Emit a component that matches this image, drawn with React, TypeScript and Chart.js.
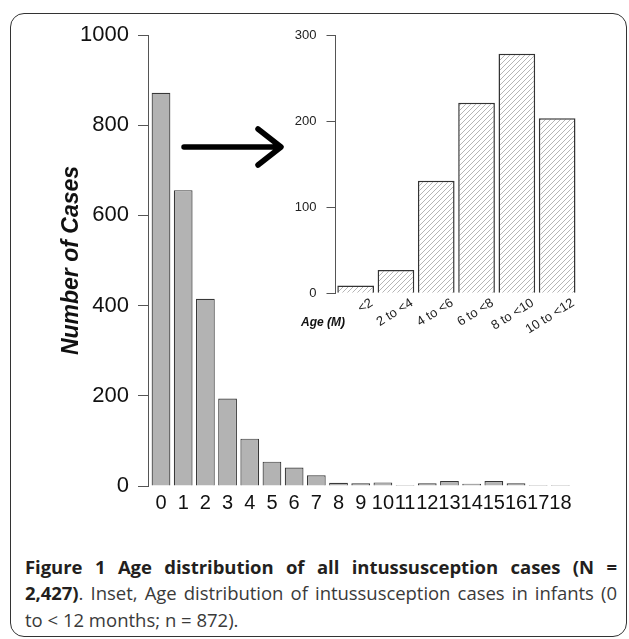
import React, { useEffect, useRef } from 'react';
import { Chart, registerables } from 'chart.js';

Chart.register(...registerables);

// ---- Data ----
const ageYears = ['0', '1', '2', '3', '4', '5', '6', '7', '8', '9', '10', '11', '12', '13', '14', '15', '16', '17', '18'];
const casesByYear = [872, 656, 415, 194, 105, 54, 41, 24, 7, 6, 8, 2, 6, 11, 5, 11, 6, 2, 2];
const mainYTicks = [0, 200, 400, 600, 800, 1000];

const infantAgeGroups = ['<2', '2 to <4', '4 to <6', '6 to <8', '8 to <10', '10 to <12'];
const casesByMonth = [9, 27, 131, 222, 279, 204];
const insetYTicks = [0, 100, 200, 300];

const FONT = "'Liberation Sans', Arial, Helvetica, sans-serif";

function makeHatch(): CanvasPattern | string {
  const c = document.createElement('canvas');
  c.width = 5;
  c.height = 5;
  const g = c.getContext('2d');
  if (!g) return '#ddd';
  g.fillStyle = '#ffffff';
  g.fillRect(0, 0, 5, 5);
  g.strokeStyle = '#a8a8a8';
  g.lineWidth = 0.85;
  g.beginPath();
  g.moveTo(-1, 6);
  g.lineTo(6, -1);
  g.moveTo(-3.5, 3.5);
  g.lineTo(3.5, -3.5);
  g.moveTo(1.5, 8.5);
  g.lineTo(8.5, 1.5);
  g.stroke();
  const p = g.createPattern(c, 'repeat');
  return p || '#ddd';
}

const mainDecor = {
  id: 'mainDecor',
  afterDraw(chart: any) {
    const ctx = chart.ctx as CanvasRenderingContext2D;
    const { top, bottom } = chart.chartArea;
    ctx.save();
    ctx.fillStyle = '#111';
    ctx.font = `italic bold 23px ${FONT}`;
    ctx.textAlign = 'center';
    ctx.textBaseline = 'middle';
    ctx.translate(72, (top + bottom) / 2);
    ctx.rotate(-Math.PI / 2);
    ctx.fillText('Number of Cases', 0, 0);
    ctx.restore();

    ctx.save();
    ctx.fillStyle = '#111';
    ctx.font = `italic bold 22px ${FONT}`;
    ctx.textAlign = 'center';
    ctx.textBaseline = 'middle';
    ctx.fillText('Age (Y)', 372, 532);
    ctx.restore();

    // arrow pointing to inset
    ctx.save();
    ctx.strokeStyle = '#000';
    ctx.lineWidth = 5.5;
    ctx.lineCap = 'round';
    ctx.lineJoin = 'round';
    ctx.beginPath();
    ctx.moveTo(184, 147);
    ctx.lineTo(279, 147);
    ctx.moveTo(258, 129);
    ctx.lineTo(281, 147);
    ctx.lineTo(258, 165);
    ctx.stroke();
    ctx.restore();
  },
};

const insetDecor = {
  id: 'insetDecor',
  afterDraw(chart: any) {
    const ctx = chart.ctx as CanvasRenderingContext2D;
    ctx.save();
    ctx.fillStyle = '#111';
    ctx.font = `italic bold 12px ${FONT}`;
    ctx.textAlign = 'center';
    ctx.textBaseline = 'middle';
    ctx.fillText('Age (M)', 53, 308);
    ctx.restore();
  },
};

export default function App() {
  const mainRef = useRef<HTMLCanvasElement>(null);
  const insetRef = useRef<HTMLCanvasElement>(null);
  const line1Ref = useRef<HTMLSpanElement>(null);
  const line2Ref = useRef<HTMLSpanElement>(null);

  useEffect(() => {
    // keep justified caption lines on a single line each
    [line1Ref.current, line2Ref.current].forEach((el) => {
      if (!el) return;
      const w = el.getBoundingClientRect().width;
      const n = (el.textContent || '').length;
      if (w > 589 && n > 0) {
        el.style.letterSpacing = `${(589 - w) / n}px`;
      }
    });
  }, []);

  useEffect(() => {
    if (!mainRef.current || !insetRef.current) return;

    const main = new Chart(mainRef.current, {
      type: 'bar',
      data: {
        datasets: [
          {
            data: casesByYear.map((v, i) => ({ x: i, y: v })),
            backgroundColor: '#b3b3b3',
            borderColor: '#383838',
            borderWidth: 1.2,
            categoryPercentage: 1,
            barPercentage: 0.845,
          } as any,
        ],
      },
      options: {
        responsive: false,
        animation: false,
        devicePixelRatio: 1,
        layout: { padding: { left: 0, top: 35, right: 57.5, bottom: 0 } },
        plugins: { legend: { display: false }, tooltip: { enabled: false } },
        scales: {
          x: {
            type: 'linear',
            offset: false,
            min: -0.586,
            max: 18.5,
            afterFit: (s: any) => {
              s.height = 34;
            },
            afterBuildTicks: (s: any) => {
              s.ticks = ageYears.map((_, i) => ({ value: i }));
            },
            grid: { display: false, drawTicks: false, tickLength: 0 },
            border: { display: false },
            ticks: {
              autoSkip: false,
              maxRotation: 0,
              minRotation: 0,
              padding: 5,
              font: { family: FONT, size: 20 },
              color: '#111',
              callback: (v: any) => ageYears[Math.round(Number(v))] ?? '',
            },
          },
          y: {
            min: 0,
            max: 1000,
            afterFit: (s: any) => {
              s.width = 148;
            },
            afterBuildTicks: (s: any) => {
              s.ticks = mainYTicks.map((v) => ({ value: v }));
            },
            grid: { drawOnChartArea: false, drawTicks: true, tickLength: 10, color: '#555' },
            border: { display: true, color: '#555', width: 1 },
            ticks: {
              padding: 9,
              font: { family: FONT, size: 22 },
              color: '#111',
              callback: (v: any) => String(v),
            },
          },
        },
      } as any,
      plugins: [mainDecor],
    });

    const inset = new Chart(insetRef.current, {
      type: 'bar',
      data: {
        labels: infantAgeGroups,
        datasets: [
          {
            data: casesByMonth,
            backgroundColor: makeHatch() as any,
            borderColor: '#333',
            borderWidth: 1.5,
            categoryPercentage: 1,
            barPercentage: 0.91,
          } as any,
        ],
      },
      options: {
        responsive: false,
        animation: false,
        devicePixelRatio: 1,
        layout: { padding: { left: 0, top: 20.7, right: 32.7, bottom: 0 } },
        plugins: { legend: { display: false }, tooltip: { enabled: false } },
        scales: {
          x: {
            offset: true,
            afterFit: (s: any) => {
              s.height = 51.7;
            },
            grid: { display: false, drawTicks: false, tickLength: 0, offset: true },
            border: { display: false },
            ticks: {
              autoSkip: false,
              minRotation: 32,
              maxRotation: 32,
              padding: 2,
              labelOffset: 16,
              font: { family: FONT, size: 13 },
              color: '#222',
            },
          },
          y: {
            min: 0,
            max: 300,
            afterFit: (s: any) => {
              s.width = 65.5;
            },
            afterBuildTicks: (s: any) => {
              s.ticks = insetYTicks.map((v) => ({ value: v }));
            },
            grid: { drawOnChartArea: false, drawTicks: true, tickLength: 9, color: '#555' },
            border: { display: true, color: '#555', width: 1 },
            ticks: {
              padding: 10,
              font: { family: FONT, size: 13 },
              color: '#222',
              callback: (v: any) => String(v),
            },
          },
        },
      } as any,
      plugins: [insetDecor],
    });

    return () => {
      main.destroy();
      inset.destroy();
    };
  }, []);

  const lineStyle: React.CSSProperties = {
    textAlign: 'justify',
    textAlignLast: 'justify' as any,
    height: 26.5,
  };

  return (
    <div style={{ position: 'absolute', left: 0, top: 0, width: 629, height: 639, background: '#fff', overflow: 'hidden' }}>
      <div
        style={{
          position: 'absolute',
          left: 10,
          top: 13,
          width: 617,
          height: 624,
          border: '1.5px solid #333',
          borderRadius: 14,
          boxSizing: 'border-box',
        }}
      />
      <canvas ref={mainRef} width={629} height={520} style={{ position: 'absolute', left: 0, top: 0, width: 629, height: 520 }} />
      <canvas ref={insetRef} width={340} height={330} style={{ position: 'absolute', left: 270, top: 15, width: 340, height: 330 }} />
      <div
        style={{
          position: 'absolute',
          left: 25,
          top: 553.5,
          width: 592,
          fontFamily: "'Open Sans', sans-serif",
          fontSize: 18.5,
          lineHeight: '26.5px',
          color: '#3a3a3a',
        }}
      >
        <div style={{ ...lineStyle, fontWeight: 700, color: '#231f20' }}>
          <span ref={line1Ref}>Figure 1 Age distribution of all intussusception cases (N =</span>
        </div>
        <div style={lineStyle}>
          <span ref={line2Ref}>
            <b style={{ color: '#231f20' }}>2,427)</b>. Inset, Age distribution of intussusception cases in infants (0
          </span>
        </div>
        <div style={{ height: 26.5 }}>to &lt; 12 months; n = 872).</div>
      </div>
    </div>
  );
}
